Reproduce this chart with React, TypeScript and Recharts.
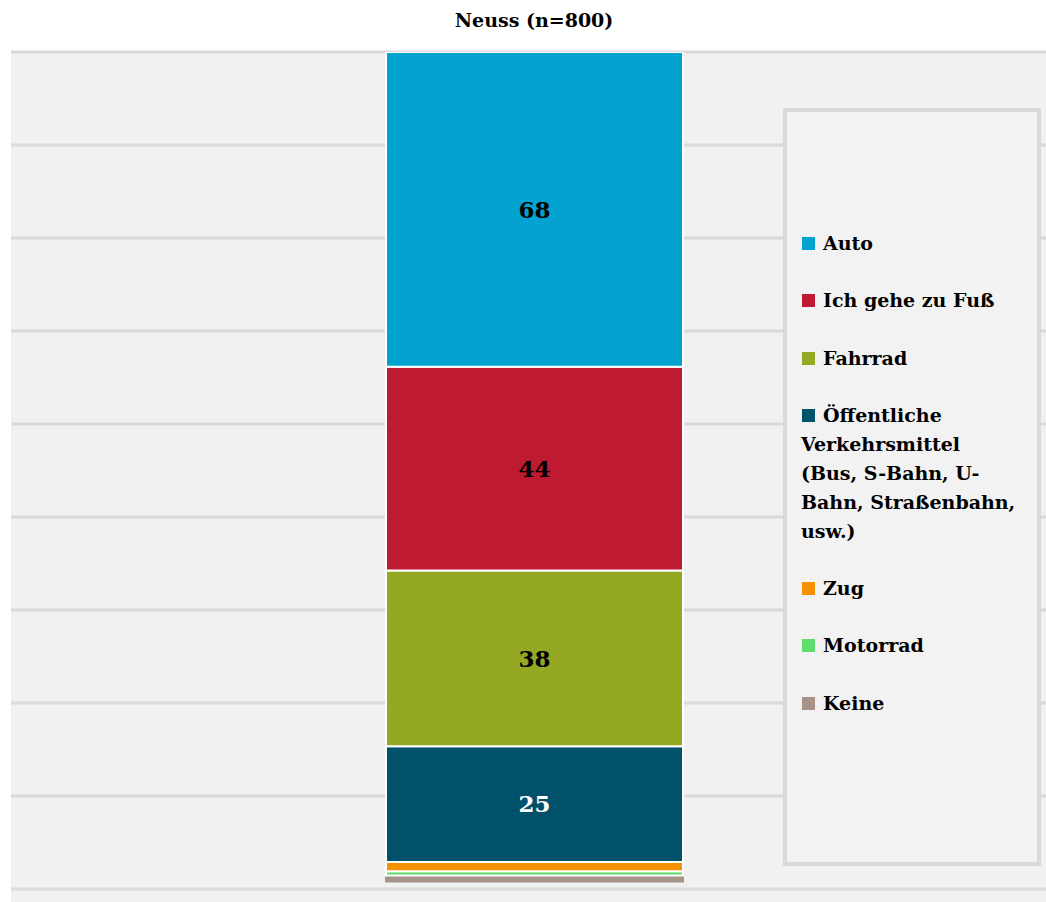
import React from 'react';
import { BarChart, Bar, XAxis, YAxis, CartesianGrid, LabelList } from 'recharts';

const categories = ['Neuss'];
const seriesNames = [
  'Auto',
  'Ich gehe zu Fuß',
  'Fahrrad',
  'Öffentliche Verkehrsmittel (Bus, S-Bahn, U-Bahn, Straßenbahn, usw.)',
  'Zug',
  'Motorrad',
  'Keine',
];
const seriesValues = [68, 44, 38, 25, 2, 0.9, 1.3];
const seriesColors = ['#02a3d1', '#be1a31', '#95a824', '#02516a', '#f59100', '#5edd6c', '#a89388'];
const labelColors = ['#000', '#000', '#000', '#fff', '#000', '#000', '#000'];
const gridTicks = [0, 20, 40, 60, 80, 100, 120, 140, 160, 180];
const title = 'Neuss (n=800)';

const FONT = '"DejaVu Serif", serif';

const data = categories.map((c) => {
  const row: Record<string, string | number> = { name: c };
  seriesNames.forEach((s, i) => {
    row['s' + i] = seriesValues[i];
  });
  return row;
});

// stacking: first drawn sits at the bottom, so draw from the last series up
const drawOrder = seriesNames.map((_, i) => i).reverse();

const EmptyTick = () => <g />;

const LegendBox = () => (
  <div
    style={{
      position: 'absolute',
      left: 783,
      top: 108,
      boxSizing: 'border-box',
      width: 258,
      height: 758,
      border: '4px solid #d9d9d9',
      background: '#f2f2f2',
      padding: '117px 0 0 14px',
      fontFamily: FONT,
      fontWeight: 'bold',
      fontSize: 19,
      lineHeight: '29px',
      color: '#000',
    }}
  >
    <div style={{ width: 217 }}>
      {seriesNames.map((s, i) => (
        <div key={s} style={{ marginBottom: 28.3 }}>
          <span
            style={{
              display: 'inline-block',
              width: 13,
              height: 13,
              background: seriesColors[i],
              marginLeft: 1,
              marginRight: 8,
            }}
          />
          {s}
        </div>
      ))}
    </div>
  </div>
);

export default function App() {
  return (
    <div style={{ position: 'absolute', left: 0, top: 0, width: 1046, height: 902, background: '#fff' }}>
      <BarChart
        width={1046}
        height={902}
        data={data}
        margin={{ top: 52, right: 0, bottom: 0, left: 10 }}
        barCategoryGap={0}
      >
        <CartesianGrid
          yAxisId="grid"
          vertical={false}
          horizontal
          syncWithTicks
          horizontalValues={gridTicks}
          stroke="#d9d9d9"
          strokeWidth={3}
          fill="#f1f1f1"
          fillOpacity={1}
        />
        <XAxis dataKey="name" type="category" hide padding={{ left: 12, right: 0 }} />
        <YAxis
          yAxisId="grid"
          width={1}
          domain={[-2.8, 180]}
          ticks={gridTicks}
          interval={0}
          allowDataOverflow
          tick={EmptyTick}
          tickLine={false}
          axisLine={{ stroke: '#d4d4d4', strokeWidth: 3 }}
        />
        <YAxis yAxisId="bar" hide domain={[-4.43, 179.2]} allowDataOverflow />
        {drawOrder.map((i) => (
          <Bar
            key={seriesNames[i]}
            yAxisId="bar"
            dataKey={'s' + i}
            name={seriesNames[i]}
            stackId="a"
            fill={seriesColors[i]}
            stroke={i === 6 ? seriesColors[i] : '#ffffff'}
            strokeWidth={2}
            barSize={297}
            isAnimationActive={false}
          >
            <LabelList
              dataKey={'s' + i}
              position="center"
              formatter={(v: number) => (v >= 5 ? String(v) : '')}
              fill={labelColors[i]}
              style={{ fontFamily: FONT, fontWeight: 'bold', fontSize: 23 }}
            />
          </Bar>
        ))}
      </BarChart>
      <div
        style={{
          position: 'absolute',
          left: 0,
          top: 9,
          width: 1068,
          textAlign: 'center',
          fontFamily: FONT,
          fontWeight: 'bold',
          fontSize: 19,
          color: '#000',
        }}
      >
        {title}
      </div>
      <LegendBox />
    </div>
  );
}
